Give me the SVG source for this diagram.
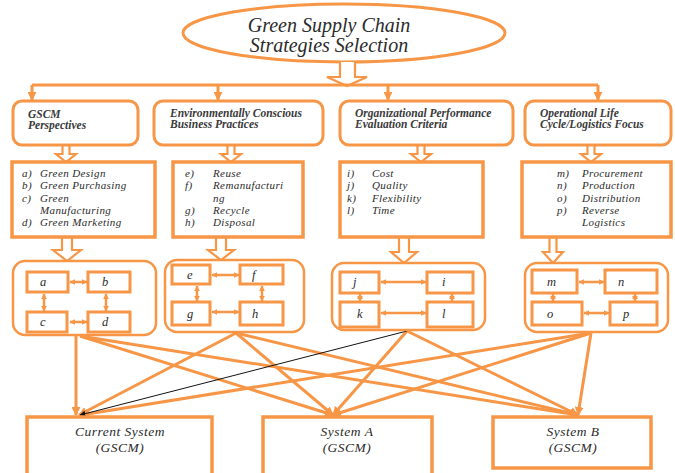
<svg xmlns="http://www.w3.org/2000/svg" width="675" height="473" viewBox="0 0 675 473">
  <style>
    .o { fill: none; stroke: #F79646; }
    .hdr { fill: #fff; stroke: #F79646; stroke-width: 3; }
    .lst { fill: #fff; stroke: #F79646; stroke-width: 3.5; }
    .grp { fill: #fff; stroke: #F79646; stroke-width: 2.5; }
    .box { fill: #fff; stroke: #F79646; stroke-width: 3; }
    .blk { fill: #fff; stroke: #F79646; stroke-width: 2.2; stroke-linejoin: miter; }
    .t { font-family: "Liberation Serif", "Times New Roman", serif; font-style: italic; fill: #2b2b2b; }
    .title { font-size: 20px; }
    .h { font-size: 11.5px; font-weight: bold; fill: #3a3a3a; }
    .l { font-size: 11px; letter-spacing: 0.4px; }
    .s { font-size: 12.5px; }
    .b { font-size: 13.5px; letter-spacing: 0.5px; text-anchor: middle; }
    .dbl { stroke: #F79646; stroke-width: 2.5; fill: none; marker-start: url(#ah); marker-end: url(#ah); }
    .con { stroke: #F79646; stroke-width: 3; fill: none; marker-end: url(#big); }
  </style>
  <defs>
    <marker id="ah" viewBox="0 0 10 10" refX="9" refY="5" markerWidth="6" markerHeight="6" markerUnits="userSpaceOnUse" orient="auto-start-reverse">
      <path d="M0,0 L10,5 L0,10 z" fill="#F79646"/>
    </marker>
    <marker id="big" viewBox="0 0 10 10" refX="9" refY="5" markerWidth="9" markerHeight="9" markerUnits="userSpaceOnUse" orient="auto">
      <path d="M0,0 L10,5 L0,10 z" fill="#F79646"/>
    </marker>
    <marker id="drop" viewBox="0 0 10 10" refX="9" refY="5" markerWidth="9" markerHeight="9" markerUnits="userSpaceOnUse" orient="auto">
      <path d="M0,0 L10,5 L0,10 z" fill="#F79646"/>
    </marker>
    <marker id="thin" viewBox="0 0 10 10" refX="9" refY="5" markerWidth="6" markerHeight="6" markerUnits="userSpaceOnUse" orient="auto">
      <path d="M0,0 L10,5 L0,10 z" fill="#111"/>
    </marker>
  </defs>

  <!-- title ellipse -->
  <g id="title">
    <ellipse cx="344" cy="33" rx="161" ry="29" fill="#fff" stroke="#F79646" stroke-width="3"/>
    <text class="t title" x="329" y="32" text-anchor="middle">Green Supply Chain</text>
    <text class="t title" x="329" y="52" text-anchor="middle">Strategies Selection</text>
  </g>

  <!-- distribution bus and block arrows -->
  <g id="connectors">
    <path class="blk" d="M340,62 V77 H327 L347,86 L367,77 H355 V62"/>
    <path class="o" stroke-width="3" d="M32,85 H598"/>
    <line x1="32" y1="85" x2="32" y2="100" stroke="#F79646" stroke-width="3" marker-end="url(#drop)"/>
    <line x1="218" y1="85" x2="218" y2="100" stroke="#F79646" stroke-width="3" marker-end="url(#drop)"/>
    <line x1="388" y1="85" x2="388" y2="100" stroke="#F79646" stroke-width="3" marker-end="url(#drop)"/>
    <line x1="598" y1="85" x2="598" y2="100" stroke="#F79646" stroke-width="3" marker-end="url(#drop)"/>

    <!-- header to list -->
    <path class="blk" d="M62.5,145 V154 H56 L66,162 L76,154 H69.5 V145"/>
    <path class="blk" d="M227.5,145 V154 H221 L231,162 L241,154 H234.5 V145"/>
    <path class="blk" d="M417.5,145 V154 H411 L421,162 L431,154 H424.5 V145"/>
    <path class="blk" d="M587.5,145 V154 H581 L591,162 L601,154 H594.5 V145"/>

    <!-- list to group -->
    <path class="blk" d="M62,237 V250 H53 L67,261 L81,250 H72 V237"/>
    <path class="blk" d="M216,237 V250 H208 L221,260 L234,250 H226 V237"/>
    <path class="blk" d="M399,237 V252 H391 L404,263 L417,252 H409 V237"/>
    <path class="blk" d="M549.5,237 V252 H543 L553,263 L563,252 H556.5 V237"/>

    <!-- group to systems -->
    <line class="con" x1="76" y1="336" x2="76" y2="415"/>
    <line class="con" x1="80" y1="336" x2="333" y2="415"/>
    <line class="con" x1="80" y1="336" x2="578" y2="415"/>
    <line class="con" x1="236" y1="333" x2="79" y2="415"/>
    <line class="con" x1="236" y1="333" x2="333" y2="415"/>
    <line class="con" x1="236" y1="333" x2="578" y2="415"/>
    <line class="con" x1="407" y1="331" x2="333" y2="415"/>
    <line class="con" x1="407" y1="331" x2="578" y2="415"/>
    <line class="con" x1="591" y1="333" x2="81" y2="415"/>
    <line class="con" x1="591" y1="333" x2="333" y2="415"/>
    <line class="con" x1="591" y1="333" x2="578" y2="415"/>
    <line x1="407" y1="331" x2="80" y2="415" stroke="#111" stroke-width="1" marker-end="url(#thin)"/>
  </g>

  <!-- header boxes -->
  <g id="hdr-gscm">
    <rect class="hdr" x="13" y="101" width="125" height="44" rx="9"/>
    <text class="t h" x="28" y="118">GSCM</text>
    <text class="t h" x="28" y="129">Perspectives</text>
  </g>
  <g id="hdr-ecbp">
    <rect class="hdr" x="154" y="101" width="169" height="44" rx="9"/>
    <text class="t h" x="170" y="117">Environmentally Conscious</text>
    <text class="t h" x="170" y="128">Business Practices</text>
  </g>
  <g id="hdr-opec">
    <rect class="hdr" x="340" y="101" width="173" height="44" rx="9"/>
    <text class="t h" x="355" y="117">Organizational Performance</text>
    <text class="t h" x="355" y="128">Evaluation Criteria</text>
  </g>
  <g id="hdr-olcl">
    <rect class="hdr" x="525" y="101" width="146" height="44" rx="9"/>
    <text class="t h" x="540" y="117">Operational Life</text>
    <text class="t h" x="540" y="128">Cycle/Logistics Focus</text>
  </g>

  <!-- list boxes -->
  <g id="list-gscm">
    <rect class="lst" x="12" y="162" width="143" height="75"/>
    <text class="t l" x="22" y="177">a)</text><text class="t l" x="40" y="177">Green Design</text>
    <text class="t l" x="22" y="189.3">b)</text><text class="t l" x="40" y="189.3">Green Purchasing</text>
    <text class="t l" x="22" y="201.6">c)</text><text class="t l" x="40" y="201.6">Green</text>
    <text class="t l" x="40" y="213.9">Manufacturing</text>
    <text class="t l" x="22" y="226.2">d)</text><text class="t l" x="40" y="226.2">Green Marketing</text>
  </g>
  <g id="list-ecbp">
    <rect class="lst" x="173" y="162" width="130" height="75"/>
    <text class="t l" x="185" y="177">e)</text><text class="t l" x="213" y="177">Reuse</text>
    <text class="t l" x="185" y="189.3">f)</text><text class="t l" x="213" y="189.3">Remanufacturi</text>
    <text class="t l" x="213" y="201.6">ng</text>
    <text class="t l" x="185" y="213.9">g)</text><text class="t l" x="213" y="213.9">Recycle</text>
    <text class="t l" x="185" y="226.2">h)</text><text class="t l" x="213" y="226.2">Disposal</text>
  </g>
  <g id="list-opec">
    <rect class="lst" x="340" y="162" width="143" height="75"/>
    <text class="t l" x="347" y="177">i)</text><text class="t l" x="372" y="177">Cost</text>
    <text class="t l" x="347" y="189.3">j)</text><text class="t l" x="372" y="189.3">Quality</text>
    <text class="t l" x="347" y="201.6">k)</text><text class="t l" x="372" y="201.6">Flexibility</text>
    <text class="t l" x="347" y="213.9">l)</text><text class="t l" x="372" y="213.9">Time</text>
  </g>
  <g id="list-olcl">
    <rect class="lst" x="522" y="162" width="149" height="75"/>
    <text class="t l" x="557" y="177">m)</text><text class="t l" x="582" y="177">Procurement</text>
    <text class="t l" x="557" y="189.3">n)</text><text class="t l" x="582" y="189.3">Production</text>
    <text class="t l" x="557" y="201.6">o)</text><text class="t l" x="582" y="201.6">Distribution</text>
    <text class="t l" x="557" y="213.9">p)</text><text class="t l" x="582" y="213.9">Reverse</text>
    <text class="t l" x="582" y="226.2">Logistics</text>
  </g>

  <!-- grouped item boxes -->
  <g id="grp-gscm">
    <rect class="grp" x="13" y="261" width="143" height="74" rx="12"/>
    <rect class="box" x="27" y="272" width="41" height="20"/>
    <rect class="box" x="88" y="272" width="42" height="20"/>
    <rect class="box" x="27" y="312" width="40" height="20"/>
    <rect class="box" x="88" y="312" width="42" height="20"/>
    <line class="dbl" x1="70" y1="282" x2="87" y2="282"/>
    <line class="dbl" x1="70" y1="322" x2="87" y2="322"/>
    <line class="dbl" x1="44" y1="294" x2="44" y2="311"/>
    <line class="dbl" x1="106" y1="294" x2="106" y2="311"/>
    <text class="t s" x="40" y="286">a</text>
    <text class="t s" x="102" y="286">b</text>
    <text class="t s" x="40" y="326">c</text>
    <text class="t s" x="102" y="326">d</text>
  </g>
  <g id="grp-ecbp">
    <rect class="grp" x="165" y="260" width="139" height="72" rx="12"/>
    <rect class="box" x="172" y="265" width="38" height="19"/>
    <rect class="box" x="240" y="265" width="43" height="19"/>
    <rect class="box" x="172" y="302" width="38" height="23"/>
    <rect class="box" x="240" y="302" width="43" height="23"/>
    <line class="dbl" x1="212" y1="275" x2="239" y2="275"/>
    <line class="dbl" x1="212" y1="312" x2="239" y2="312"/>
    <line class="dbl" x1="197" y1="286" x2="197" y2="301"/>
    <line class="dbl" x1="262" y1="286" x2="262" y2="301"/>
    <text class="t s" x="187" y="279">e</text>
    <text class="t s" x="252" y="279">f</text>
    <text class="t s" x="187" y="318">g</text>
    <text class="t s" x="252" y="318">h</text>
  </g>
  <g id="grp-opec">
    <rect class="grp" x="332" y="263" width="153" height="67" rx="12"/>
    <rect class="box" x="340" y="272" width="39" height="21"/>
    <rect class="box" x="427" y="272" width="46" height="21"/>
    <rect class="box" x="340" y="302" width="39" height="25"/>
    <rect class="box" x="427" y="302" width="46" height="25"/>
    <line class="dbl" x1="381" y1="282" x2="426" y2="282"/>
    <line class="dbl" x1="381" y1="313" x2="426" y2="313"/>
    <line class="dbl" x1="360" y1="294" x2="360" y2="301"/>
    <line class="dbl" x1="452" y1="294" x2="452" y2="301"/>
    <text class="t s" x="353" y="286">j</text>
    <text class="t s" x="442" y="286">i</text>
    <text class="t s" x="357" y="318">k</text>
    <text class="t s" x="442" y="318">l</text>
  </g>
  <g id="grp-olcl">
    <rect class="grp" x="525" y="263" width="143" height="69" rx="12"/>
    <rect class="box" x="532" y="270" width="45" height="23"/>
    <rect class="box" x="605" y="270" width="52" height="23"/>
    <rect class="box" x="532" y="302" width="50" height="23"/>
    <rect class="box" x="610" y="302" width="47" height="23"/>
    <line class="dbl" x1="579" y1="282" x2="604" y2="282"/>
    <line class="dbl" x1="584" y1="313" x2="609" y2="313"/>
    <line class="dbl" x1="553" y1="294" x2="553" y2="301"/>
    <line class="dbl" x1="635" y1="294" x2="635" y2="301"/>
    <text class="t s" x="547" y="286">m</text>
    <text class="t s" x="618" y="286">n</text>
    <text class="t s" x="547" y="318">o</text>
    <text class="t s" x="623" y="318">p</text>
  </g>

  <!-- candidate systems -->
  <g id="sys-current">
    <rect class="lst" x="27" y="417" width="185" height="60"/>
    <text class="t b" x="120" y="436">Current System</text>
    <text class="t b" x="120" y="451.5">(GSCM)</text>
  </g>
  <g id="sys-a">
    <rect class="lst" x="263" y="417" width="169" height="60"/>
    <text class="t b" x="347" y="436">System A</text>
    <text class="t b" x="347" y="451.5">(GSCM)</text>
  </g>
  <g id="sys-b">
    <rect class="lst" x="493" y="417" width="158" height="51"/>
    <text class="t b" x="573" y="436">System B</text>
    <text class="t b" x="573" y="451.5">(GSCM)</text>
  </g>
</svg>
